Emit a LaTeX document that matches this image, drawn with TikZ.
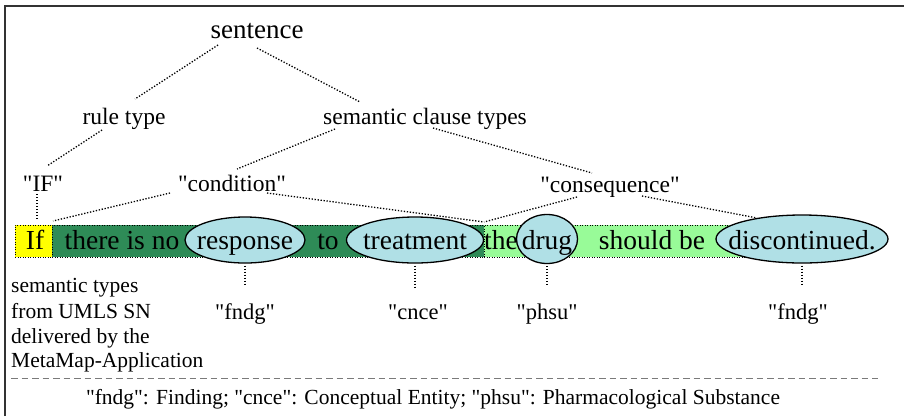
\documentclass[tikz,border=0pt]{standalone}
\usepackage{fontspec}
\setmainfont{Liberation Serif}
% a family without the TeX mapping, so that " stays a straight quote
\newfontfamily\plainserif{Liberation Serif}
\usetikzlibrary{shapes.geometric}

\definecolor{condgreen}{HTML}{2E8B57}
\definecolor{consgreen}{HTML}{98FB98}
\definecolor{ifyellow}{HTML}{FFFF00}
\definecolor{entblue}{HTML}{B0E0E6}
\definecolor{framegray}{HTML}{333333}
\definecolor{rulegray}{HTML}{7A7A7A}

\tikzset{
  link/.style={line width=1.3pt, dash pattern=on 1.3pt off 1.7pt},
  barpart/.style={rectangle, anchor=north west, inner sep=0pt, outer sep=0pt,
    line width=1pt, dash pattern=on 1pt off 1.5pt, draw=black},
  treelabel/.style={anchor=base, inner sep=0pt, font=\plainserif\fontsize{23.5}{28}\selectfont},
  rootlabel/.style={treelabel, font=\plainserif\fontsize{27}{32}\selectfont},
  word/.style={anchor=base, inner sep=0pt, font=\plainserif\fontsize{27.5}{32}\selectfont},
  entity/.style={ellipse, draw=black, line width=1.3pt, fill=entblue, inner sep=0pt},
  note/.style={anchor=base west, inner sep=0pt, font=\plainserif\fontsize{21.5}{25}\selectfont},
  stlabel/.style={anchor=base, inner sep=0pt, font=\plainserif\fontsize{22.5}{27}\selectfont},
  typelink/.style={link, shorten <=2pt, shorten >=17pt},
}

\begin{document}
\begin{tikzpicture}[x=1pt, y=-1pt]
\useasboundingbox (0,0) rectangle (904,416);
\fill[white] (0,0) rectangle (904,416);

% frame
\draw[framegray, line width=1.5pt] (5,416) -- (5,6) -- (904,6);

% tree labels
\node[rootlabel] (sentence) at (257,38) {sentence};
\node[treelabel] (rule) at (124,124) {rule type};
\node[treelabel] (clauses) at (425,124) {semantic clause types};
\node[treelabel] (ifrule) at (43,191) {"IF"};
\node[treelabel] (cond) at (232,191) {"condition"};
\node[treelabel] (cons) at (610,192) {"consequence"};

% sentence bar: rule word, condition clause, consequence clause
\node[barpart, fill=ifyellow, minimum width=37pt, minimum height=32pt] (ifbox) at (15,225) {};
\node[barpart, fill=condgreen, minimum width=432pt, minimum height=32pt] (condbar) at (52,225) {};
\node[barpart, fill=consgreen, minimum width=276pt, minimum height=32pt] (consbar) at (484,225) {};

% tree connector end points
\coordinate (sentence-l) at (218,45);
\coordinate (sentence-r) at (257,48);
\coordinate (rule-t) at (135,99);
\coordinate (clauses-t) at (360,102);
\coordinate (rule-b) at (102,130);
\coordinate (ifrule-t) at (47,166);
\coordinate (clauses-bl) at (335,129);
\coordinate (clauses-br) at (433,128);
\coordinate (cond-t) at (237,169);
\coordinate (cons-t) at (592,173);
\coordinate (ifrule-b) at (37,194);
\coordinate (ifbox-t) at (37,219);
\coordinate (cond-bl) at (170,193);
\coordinate (cond-br) at (267,193);
\coordinate (condbar-l) at (53,221);
\coordinate (clause-split) at (484,222);
\coordinate (cons-bl) at (577,197);
\coordinate (cons-br) at (642,196);
\coordinate (consbar-r) at (757,218);

\draw[link] (sentence-l) -- (rule-t);
\draw[link] (sentence-r) -- (clauses-t);
\draw[link] (rule-b) -- (ifrule-t);
\draw[link] (clauses-bl) -- (cond-t);
\draw[link] (clauses-br) -- (cons-t);
\draw[link] (ifrule-b) -- (ifbox-t);
\draw[link] (cond-bl) -- (condbar-l);
\draw[link] (cond-br) -- (clause-split);
\draw[link] (cons-bl) -- (clause-split);
\draw[link] (cons-br) -- (consbar-r);

% plain words of the sentence
\node[word] (wIf) at (35,249) {If};
\node[word] (wthere) at (122,249) {there is no};
\node[word] (wto) at (328,249) {to};
\node[word] (wthe) at (501,249) {the};
\node[word] (wshould) at (652,249) {should be};

% recognised entities
\node[entity, minimum width=120pt, minimum height=46pt] (response) at (245,240) {};
\node[entity, minimum width=137pt, minimum height=46pt] (treatment) at (415,240) {};
\node[entity, minimum width=61pt, minimum height=49pt] (drug) at (547,239) {};
\node[entity, minimum width=172pt, minimum height=48pt] (discont) at (802,239) {};
\node[word] (wresponse) at (245,249) {response};
\node[word] (wtreatment) at (415,249) {treatment};
\node[word] (wdrug) at (547,249) {drug};
\node[word] (wdiscont) at (802,249) {discontinued.};

% semantic types
\node[stlabel] (st1) at (245,319) {"fndg"};
\node[stlabel] (st2) at (418,319) {"cnce"};
\node[stlabel] (st3) at (547,319) {"phsu"};
\node[stlabel] (st4) at (798,319) {"fndg"};
\draw[typelink] (response.south) -- (response.south |- st1.north);
\draw[typelink] (treatment.south) -- (treatment.south |- st2.north);
\draw[typelink] (drug.south) -- (drug.south |- st3.north);
\draw[typelink] (discont.south) -- (discont.south |- st4.north);

% explanation on the left
\node[note] (note1) at (11,292) {semantic types};
\node[note] (note2) at (11,318) {from UMLS SN};
\node[note] (note3) at (11,343) {delivered by the};
\node[note] (note4) at (11,367) {MetaMap-Application};

% separator and legend
\draw[rulegray, line width=1pt, dash pattern=on 6.5pt off 4pt] (11,378) -- (878,378);
\node[note, anchor=base] (legend) at (433,404) {"fndg": Finding; "cnce": Conceptual Entity; "phsu": Pharmacological Substance};
\end{tikzpicture}
\end{document}
